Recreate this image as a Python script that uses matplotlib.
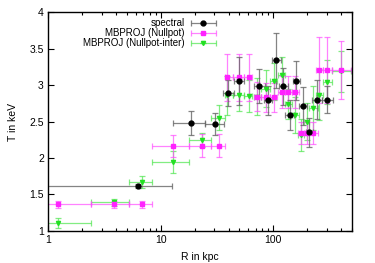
import matplotlib
matplotlib.use("Agg")
import matplotlib.pyplot as plt
from matplotlib.legend_handler import HandlerErrorbar
from matplotlib.ticker import FixedLocator, NullFormatter
import numpy as np

# spectral fit
spec_r = [6.25, 18.7, 30.1, 39.8, 49.2, 75, 90, 106, 123, 140, 160, 183, 208, 244, 299]
spec_r_lo = [0.5, 12.9, 24.7, 35.6, 44.5, 67, 82, 97, 113, 128, 148, 170, 193, 222, 268]
spec_r_hi = [12.5, 24.7, 36.4, 44.8, 54.5, 84, 98, 116, 134, 153, 173, 197, 224, 268, 337]
spec_t = [1.62, 2.48, 2.46, 2.89, 3.06, 2.99, 2.79, 3.34, 2.98, 2.59, 3.06, 2.71, 2.35, 2.80, 2.80]
spec_terr = [0.03, 0.17, 0.15, 0.18, 0.33, 0.23, 0.20, 0.38, 0.25, 0.20, 0.27, 0.26, 0.20, 0.27, 0.19]

# MBPROJ bins (shared radii)
mb_r = [1.22, 3.83, 6.82, 12.86, 23.1, 33.1, 39, 49.8, 60.4, 71, 86, 100.6, 118.5, 135.6,
        155.5, 175, 197, 226, 255, 297, 400]
mb_r_lo = [0.5, 2.42, 5.2, 8.3, 18, 28, 37, 44, 55, 67, 78, 93, 110, 127, 145, 166, 186, 208,
           240, 275, 330]
mb_r_hi = [2.42, 5.2, 8.4, 18, 28, 37, 44, 55, 65, 78, 93, 107, 127, 145, 168, 186, 208, 247,
           275, 330, 490]

null_t = [1.366, 1.366, 1.366, 2.17, 2.17, 2.17, 3.105, 3.105, 3.105, 2.84, 2.83, 2.83,
          2.91, 2.91, 2.91, 2.34, 2.34, 2.34, 3.21, 3.21, 3.21]
null_terr = [0.05, 0.05, 0.05, 0.15, 0.16, 0.16, 0.32, 0.32, 0.32, 0.20, 0.20, 0.20,
             0.22, 0.22, 0.22, 0.15, 0.15, 0.15, 0.45, 0.45, 0.40]

inter_t = [1.105, 1.39, 1.667, 1.94, 2.247, 2.55, 2.86, 2.86, 2.845, 2.84, 2.95, 3.05,
           3.14, 2.74, 2.59, 2.32, 2.50, 2.68, 2.87, 3.04, 3.19]
inter_terr = [0.07, 0.05, 0.08, 0.15, 0.10, 0.17, 0.27, 0.22, 0.22, 0.25, 0.25, 0.25,
              0.25, 0.20, 0.25, 0.22, 0.25, 0.30, 0.35, 0.30, 0.28]


def xerr(r, lo, hi):
    r = np.array(r)
    return [r - np.array(lo), np.array(hi) - r]


plt.rcParams["font.family"] = "Liberation Sans"
plt.rcParams["font.size"] = 7.5

fig = plt.figure(figsize=(3.75, 2.63), dpi=100)
ax = fig.add_axes([0.128, 0.122, 0.811, 0.832])

ekw = dict(linestyle="none", capsize=2, elinewidth=0.9, capthick=0.9)

g = ax.errorbar(mb_r, inter_t, yerr=inter_terr, xerr=xerr(mb_r, mb_r_lo, mb_r_hi),
                marker="v", ms=3.0, color="#22e022", ecolor=(0.3, 0.9, 0.3, 0.7), **ekw)
m = ax.errorbar(mb_r, null_t, yerr=null_terr, xerr=xerr(mb_r, mb_r_lo, mb_r_hi),
                marker="s", ms=2.4, color="#ff22ff", ecolor=(1, 0.3, 1, 0.7), **ekw)
s = ax.errorbar(spec_r, spec_t, yerr=spec_terr, xerr=xerr(spec_r, spec_r_lo, spec_r_hi),
                marker="o", ms=3.5, color="black", ecolor=(0.4, 0.4, 0.4, 0.8), **ekw)

ax.set_xscale("log")
ax.set_xlim(1, 500)
ax.set_ylim(1, 4)
ax.set_yticks([1, 1.5, 2, 2.5, 3, 3.5, 4])
ax.set_yticklabels(["1", "1.5", "2", "2.5", "3", "3.5", "4"])
ax.set_xticks([1, 10, 100])
ax.set_xticklabels(["1", "10", "100"])
ax.xaxis.set_minor_locator(FixedLocator([k * 10 ** d for d in range(3) for k in range(2, 10)]))
ax.xaxis.set_minor_formatter(NullFormatter())
ax.tick_params(which="both", direction="in", top=True, right=True, width=0.8)
ax.tick_params(which="major", length=4, pad=3)
ax.tick_params(which="minor", length=2)
for sp in ax.spines.values():
    sp.set_linewidth(1.0)

ax.set_xlabel("R in kpc", labelpad=5)
ax.set_ylabel("T in keV", labelpad=8)

hm = {c: HandlerErrorbar(xerr_size=1.3, yerr_size=0.0) for c in (s, m, g)}
ax.legend([s, m, g], ["spectral", "MBPROJ (Nullpot)", "MBPROJ (Nullpot-inter)"],
          loc="upper right", bbox_to_anchor=(0.575, 1.0), frameon=False, markerfirst=False,
          handlelength=2.8, handletextpad=0.5, labelspacing=0.0, borderpad=0.1,
          fontsize=7, handler_map=hm)

fig.savefig("out.png", dpi=100)
